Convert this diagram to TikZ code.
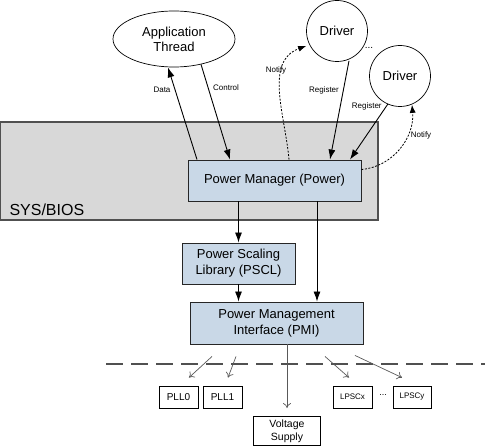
\documentclass[tikz,border=0pt]{standalone}
\usepackage{fontspec}
\setmainfont{Liberation Sans}
\usepackage{tikz}
\usetikzlibrary{calc, arrows.meta, shapes.geometric}
\definecolor{bleuclair}{HTML}{C9D8E7}
\definecolor{grisclair}{HTML}{D8D8D8}
\definecolor{grisfonce}{HTML}{505050}
\newcommand{\taille}[1]{\fontsize{#1}{#1}\selectfont}
\tikzstyle{systeme} = [rectangle, draw=grisfonce, line width=1.6pt, fill=grisclair, minimum width=378pt, minimum height=98pt, inner sep=0pt]
\tikzstyle{bleu} = [rectangle, draw=black!85, line width=0.9pt, fill=bleuclair, inner sep=0pt, minimum height=41pt, align=center, font=\fontsize{13}{16}\selectfont]
\tikzstyle{acteur} = [draw=black, line width=0.7pt, fill=white, inner sep=0pt, align=center, font=\fontsize{13}{15}\selectfont]
\tikzstyle{petit} = [rectangle, draw=black, line width=0.8pt, fill=white, inner sep=0pt, minimum height=22pt, align=center, font=\taille{10}]
\tikzstyle{fleche} = [line width=0.9pt, -{Latex[length=10pt, width=7pt]}]
\tikzstyle{avis} = [line width=0.8pt, dash pattern=on 2pt off 1.5pt, -{Latex[length=8pt, width=6pt]}]
\tikzstyle{fine} = [draw=black!65, line width=0.7pt, -{To[length=5pt, width=8pt]}]
\tikzstyle{etiquette} = [font=\taille{8}, inner sep=1pt]

\begin{document}
\begin{tikzpicture}[x=1pt, y=-1pt]

        \useasboundingbox (0,0) rectangle (485,446);

        \node (sys) [systeme] at (189,171) {};
        \node (bios) [anchor=west, font=\taille{16}] at (6,210) {SYS/BIOS};

        \node (app)  [acteur, ellipse, minimum width=122pt, minimum height=56pt] at (174,39) {Application\\Thread};
        \node (drv1) [acteur, circle, minimum size=61pt] at (337,31) {Driver};
        \node (drv2) [acteur, circle, minimum size=61pt] at (400,76) {Driver};
        \node (pdrv) [font=\taille{10}] at (369,48) {...};

        \node (pm)   [bleu, minimum width=173pt] at (274.5,180.5) {Power Manager (Power)};
        \node (pscl) [bleu, minimum width=113pt] at (238.5,263.5) {Power Scaling\\Library (PSCL)};
        \node (pmi)  [bleu, minimum width=173pt, minimum height=42pt] at (276.5,323) {Power Management\\Interface (PMI)};

        \node (pll0)  [petit, minimum width=39pt] at (178.5,397) {PLL0};
        \node (pll1)  [petit, minimum width=39pt] at (222.5,397) {PLL1};
        \node (lpscx) [petit, minimum width=39pt, font=\taille{8}] at (352.5,397) {LPSCx};
        \node (plpsc) [font=\taille{9}] at (383,395) {...};
        \node (lpscy) [petit, minimum width=38pt, font=\taille{8}] at (412,397) {LPSCy};
        \node (volt)  [petit, minimum width=67pt, minimum height=29pt, font=\fontsize{10.5}{13}\selectfont] at (287,431) {Voltage\\Supply};

        % application <-> power manager
        \draw [fleche] ($(pm.north) + (-77.5,0)$) -- ($(app.south) + (-6,0)$);
        \node (data) [etiquette] at (162,90) {Data};
        \draw [fleche] ($(app.south) + (27,-3)$) -- ($(pm.north) + (-44.5,0)$);
        \node (ctrl) [etiquette] at (226,88) {Control};

        % drivers
        \draw [fleche] ($(drv1.south) + (12,-1)$) -- ($(pm.north) + (55.5,0)$) node [etiquette, pos=0.3, left=3pt] {Register};
        \draw [fleche] ($(drv2.south) + (-12,-3)$) -- ($(pm.north) + (75.5,0)$) node [etiquette, pos=0.05, left=3pt] {Register};
        \draw [avis] ($(pm.north) + (14.5,0)$) to [out=95, in=200] (drv1.west |- 0,46) ;
        \node (notif1) [etiquette] at (276,70) {Notify};
        \draw [avis] ($(pm.east) + (0,-11)$) to [out=5, in=-85] ($(drv2.south) + (12,-2)$);
        \node (notif2) [etiquette] at (421,135) {Notify};

        % inside
        \draw [fleche] (pscl.north |- pm.south) -- (pscl.north);
        \draw [fleche] ($(pm.south) + (42.5,0)$) -- ($(pmi.north) + (40.5,0)$);
        \draw [fleche] (pscl.south) -- (pscl.south |- pmi.north);

        % hardware
        \draw [draw=grisfonce, line width=1.2pt, dash pattern=on 17pt off 8pt] (106,364) -- (485,364);

        \draw [fine] ($(pmi.south) + (-64.5,12)$) -- ($(pll0.north) + (10.5,-8)$);
        \draw [fine] ($(pmi.south) + (-40.5,12)$) -- ($(pll1.north) + (5.5,-8)$);
        \draw [fine] ($(pmi.south) + (10.5,0)$) -- ($(volt.north) + (0,-8)$);
        \draw [fine] ($(pmi.south) + (48.5,12)$) -- ($(lpscx.north) + (-3.5,-8)$);
        \draw [fine] ($(pmi.south) + (78.5,11)$) -- ($(lpscy.north) + (-10,-8)$);

\end{tikzpicture}
\end{document}
